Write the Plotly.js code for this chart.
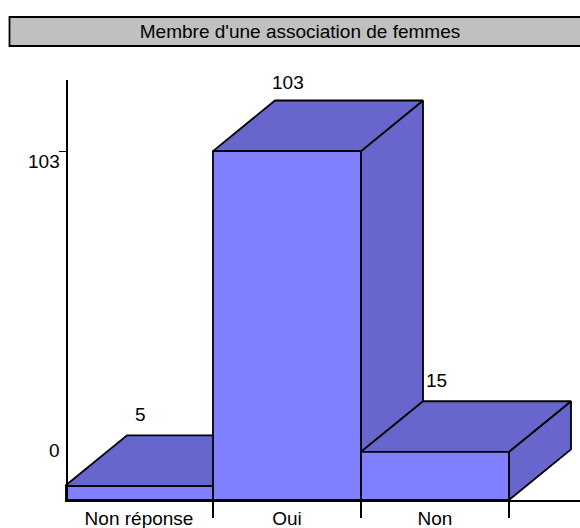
<!DOCTYPE html>
<html><head><meta charset="utf-8">
<script src="https://cdn.plot.ly/plotly-3.0.1.min.js"></script>
<style>html,body{margin:0;padding:0;background:#fff}#c{width:580px;height:528px}</style>
</head><body><div id="c"></div>
<script>
const titleText = "Membre d'une association de femmes";
const categories = ["Non réponse", "Oui", "Non"];
const values = [5, 103, 15];
const yTickValues = [0, 103];
const barBase = 0.9;
const depthX = 0.419;
const depthY = 14.8;
const FONT = '"Liberation Sans", Arial, sans-serif';
const FRONT = '#8080ff', DARK = '#6666cc';
const FS = 19;

function poly(xs, ys, fill) {
  return {type:'scatter', mode:'lines', x:[...xs, xs[0]], y:[...ys, ys[0]], fill:'toself', fillcolor:fill,
    line:{color:'#000', width:1.8, shape:'linear'}, hoverinfo:'skip', showlegend:false};
}
const traces = [];
categories.forEach((c, i) => {
  const l = i, r = i + 1, t = values[i], b = barBase;
  traces.push(poly([r, r+depthX, r+depthX, r], [b, b+depthY, t+depthY, t], DARK));
  traces.push(poly([l, l+depthX, r+depthX, r], [t, t+depthY, t+depthY, t], DARK));
  traces.push(poly([l, r, r, l], [b, b, t, t], FRONT));
});
const labelShift = [21, 18, 21];
const annotations = categories.map((c, i) => ({
  x: i + 0.5, y: values[i] + depthY, xref:'x', yref:'y', text: String(values[i]), showarrow:false,
  yanchor:'middle', xanchor:'center', xshift:1, yshift: labelShift[i], font:{family:FONT, size:FS, color:'#000'}
}));
[[yTickValues[0], barBase, 50], [yTickValues[1], yTickValues[1], -10]].forEach(([t, v, s]) => annotations.push({
  x: 0, y: v, xref:'x', yref:'y', text:String(t), showarrow:false, xanchor:'right', yanchor:'middle',
  xshift:-3, yshift:s, font:{family:FONT, size:FS, color:'#000'}
}));
const layout = {
  width:580, height:528, paper_bgcolor:'#fff', plot_bgcolor:'#fff', showlegend:false,
  margin:{l:65, r:0, t:80, b:28, pad:0},
  title:{text:titleText, x:300/580, xanchor:'center', y:1-31/528, yanchor:'middle', xref:'container', yref:'container',
    font:{family:FONT, size:FS, color:'#000'}, automargin:false},
  xaxis:{range:[0, 515/148], tickmode:'array', tickvals:categories.map((c,i)=>i+0.5), ticktext:categories,
    ticks:'', ticklen:0, showgrid:false, zeroline:false, showline:true, linecolor:'#000', linewidth:1.5,
    tickfont:{family:FONT, size:FS, color:'#000'},
    minor:{tickmode:'array', tickvals:[1,2,3], ticks:'outside', ticklen:16, tickwidth:1.5, tickcolor:'#000', showgrid:false}},
  yaxis:{range:[barBase, 123.8], tickmode:'array', tickvals:[yTickValues[1]], showticklabels:false,
    ticks:'outside', ticklen:7, tickwidth:1, tickcolor:'#000', showgrid:false, zeroline:false,
    showline:true, linecolor:'#000', linewidth:1.8, anchor:'free', position:2/515},
  shapes:[{type:'rect', xref:'paper', yref:'paper', x0:-55.5/515, x1:1.02, y0:(500-17)/420, y1:(500-46)/420,
    fillcolor:'#c0c0c0', line:{color:'#000', width:1.8}, layer:'below'}],
  annotations
};
Plotly.newPlot('c', traces, layout, {displayModeBar:false, responsive:false});
</script></body></html>
